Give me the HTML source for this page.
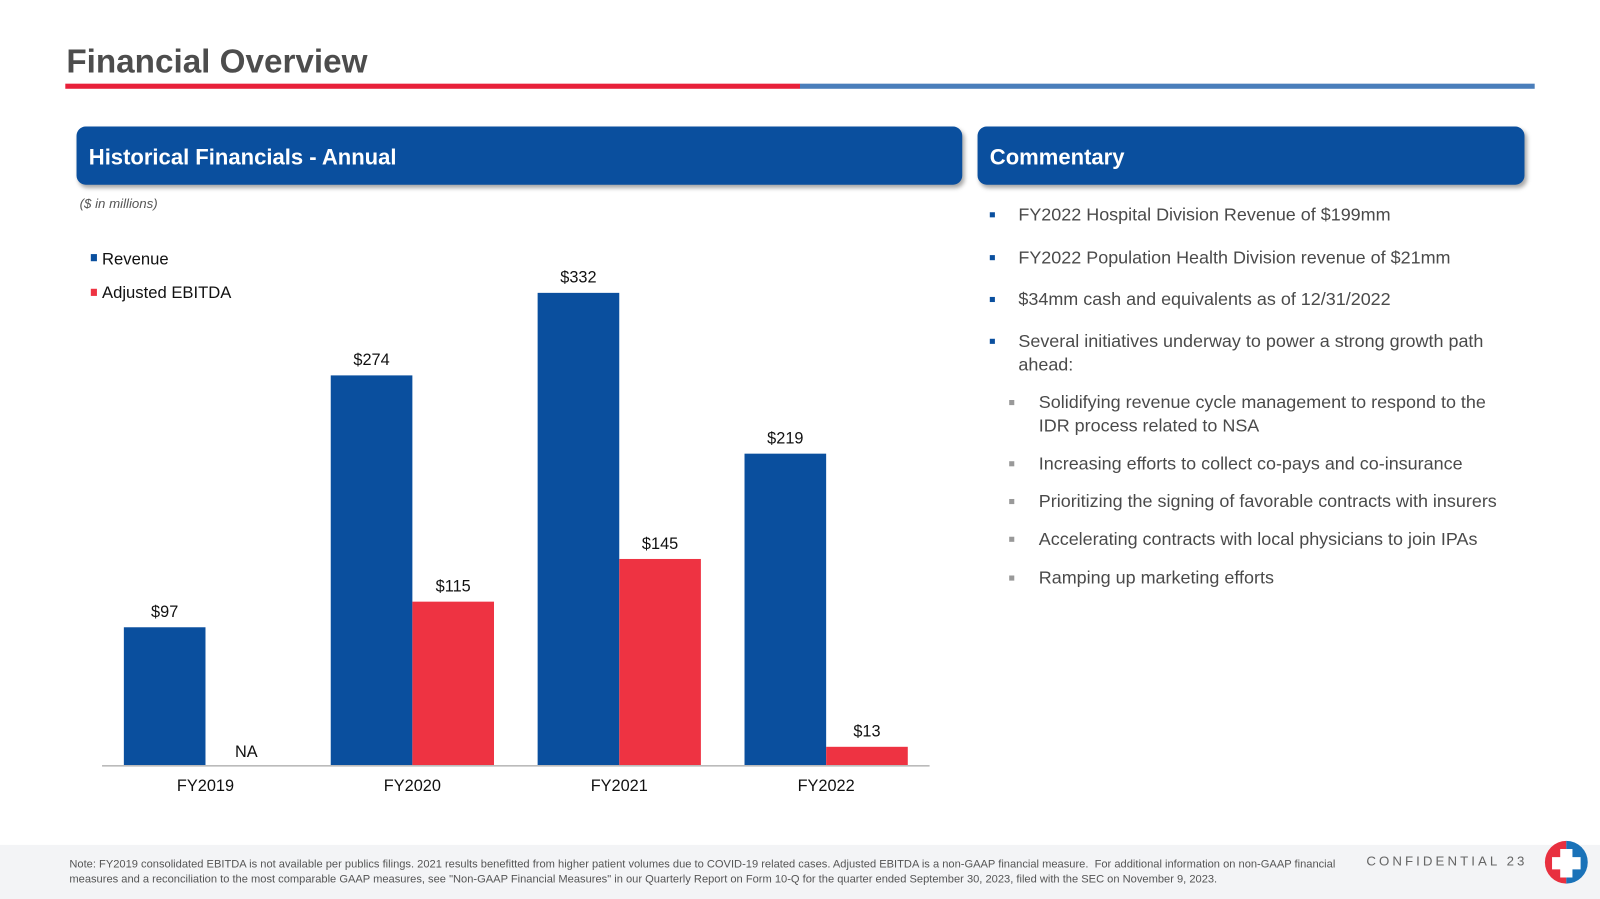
<!DOCTYPE html>
<html><head><meta charset="utf-8">
<style>
html,body{margin:0;padding:0;width:1600px;height:899px;overflow:hidden;background:#fff}
#wrap{position:absolute;left:0;top:0;width:1568px;height:881px;transform:scale(1.020408);transform-origin:0 0;font-family:"Liberation Sans",Arial,sans-serif}
.abs{position:absolute;white-space:nowrap}
.hdr{position:absolute;background:#0a4f9e;border-radius:9px;box-shadow:2px 3px 4px rgba(0,0,0,.35);color:#fff;font-weight:bold;font-size:21.6px;line-height:60px;padding-left:12px;box-sizing:border-box}
.b{position:absolute;font-size:17.6px;color:#4a4a4a;line-height:23px}
.b::before{content:"";position:absolute;width:5px;height:5px;background:#0a4f9e;left:-28px;top:9px}
.s::before{background:#999;left:-29px}
</style></head><body>
<div id="wrap">
<div class="abs" style="left:65px;top:41px;font-size:32.6px;font-weight:bold;color:#4d4d4d">Financial Overview</div>
<div class="abs" style="left:64px;top:82px;width:720px;height:5px;background:#e8203a"></div>
<div class="abs" style="left:784px;top:82px;width:720px;height:5px;background:#4a7ebb"></div>

<div class="hdr" style="left:75px;top:124px;width:868px;height:57px">Historical Financials - Annual</div>
<div class="hdr" style="left:958px;top:124px;width:536px;height:57px">Commentary</div>

<div class="abs" style="left:78px;top:192px;font-size:13px;font-style:italic;color:#555">($ in millions)</div>

<svg id="chart" class="abs" style="left:0;top:0" width="950" height="800"></svg>

<div class="b" style="left:998px;top:199px">FY2022 Hospital Division Revenue of $199mm</div>
<div class="b" style="left:998px;top:241px">FY2022 Population Health Division revenue of $21mm</div>
<div class="b" style="left:998px;top:282px">$34mm cash and equivalents as of 12/31/2022</div>
<div class="b" style="left:998px;top:323px">Several initiatives underway to power a strong growth path<br>ahead:</div>
<div class="b s" style="left:1018px;top:383px">Solidifying revenue cycle management to respond to the<br>IDR process related to NSA</div>
<div class="b s" style="left:1018px;top:443px">Increasing efforts to collect co-pays and co-insurance</div>
<div class="b s" style="left:1018px;top:480px">Prioritizing the signing of favorable contracts with insurers</div>
<div class="b s" style="left:1018px;top:517px">Accelerating contracts with local physicians to join IPAs</div>
<div class="b s" style="left:1018px;top:555px">Ramping up marketing efforts</div>

<div class="abs" style="left:0;top:828px;width:1568px;height:53px;background:#f3f4f6"></div>
<div class="abs" style="left:68px;top:840px;font-size:10.9px;color:#555;line-height:15px">Note: FY2019 consolidated EBITDA is not available per publics filings. 2021 results benefitted from higher patient volumes due to COVID-19 related cases. Adjusted EBITDA is a non-GAAP financial measure.&nbsp; For additional information on non-GAAP financial<br>measures and a reconciliation to the most comparable GAAP measures, see "Non-GAAP Financial Measures" in our Quarterly Report on Form 10-Q for the quarter ended September 30, 2023, filed with the SEC on November 9, 2023.</div>
<div class="abs" style="left:1339px;top:836px;font-size:13px;letter-spacing:3px;color:#666">CONFIDENTIAL 23</div>
<svg class="abs" style="left:1513px;top:823px" width="44" height="44" viewBox="0 0 44 44">
<path d="M22 1 A21 21 0 0 0 22 43 Z" fill="#e8303f"/><path d="M22 1 A21 21 0 0 1 22 43 Z" fill="#1a72b8"/>
<path d="M16 9h12v8h8v12h-8v8h-12v-8h-8v-12h8z" fill="#fff"/></svg>
</div>
<script>
const categories=["FY2019","FY2020","FY2021","FY2022"];
const revenue=[97,274,332,219];
const ebitda=[null,115,145,13];
const svg=document.getElementById('chart');
const NS='http://www.w3.org/2000/svg';
const baseY=750, pxPerUnit=463/332, x0=100, x1=911, barW=80;
const band=(x1-x0)/categories.length;
function yScale(v){return baseY-v*pxPerUnit;}
function xCenter(i){return x0+band*(i+0.5);}
function mk(tag,attrs){const e=document.createElementNS(NS,tag);for(const k in attrs)e.setAttribute(k,attrs[k]);svg.appendChild(e);return e;}
function txt(x,y,s,size){const t=mk('text',{x:x,y:y,'text-anchor':'middle','font-size':size||16,fill:'#111','font-family':'Liberation Sans, Arial, sans-serif'});t.textContent=s;return t;}
const lr=mk('rect',{x:89,y:249,width:6,height:7,fill:'#0a4f9e'});


const lt=txt(100,259,'Revenue',16.3);lt.setAttribute('text-anchor','start');


const le=mk('rect',{x:89,y:283,width:6,height:7,fill:'#ee3342'});


const let2=txt(100,292,'Adjusted EBITDA',16.3);let2.setAttribute('text-anchor','start');


categories.forEach((c,i)=>{
  const cx=xCenter(i);
  const r=mk('rect',{x:cx-barW,y:yScale(revenue[i]),width:barW,height:revenue[i]*pxPerUnit,fill:'#0a4f9e'});
  
  
  const rl=txt(cx-barW/2,yScale(revenue[i])-10,'$'+revenue[i]);
  
  
  if(ebitda[i]==null){
    const na=txt(cx+barW/2,742,'NA');
    
    
  } else {
    const e=mk('rect',{x:cx,y:yScale(ebitda[i]),width:barW,height:ebitda[i]*pxPerUnit,fill:'#ee3342'});
    
    
    const el=txt(cx+barW/2,yScale(ebitda[i])-10,'$'+ebitda[i]);
    
    
  }
  const cl=txt(cx,775,c);
  
  
});
const ax=mk('line',{x1:x0,y1:baseY+0.5,x2:x1,y2:baseY+0.5,stroke:'#bbb','stroke-width':1.5});


</script>
</body></html>
